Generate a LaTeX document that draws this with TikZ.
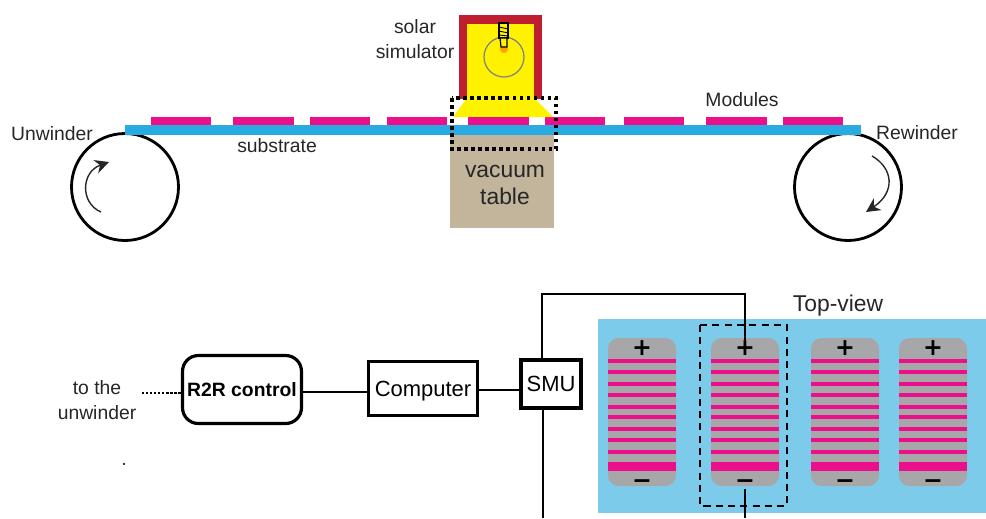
\documentclass[tikz,border=0pt]{standalone}
\usepackage{fontspec}
\setmainfont{Liberation Sans}
\newfontfamily\signfont{DejaVu Sans}
\usetikzlibrary{arrows.meta,positioning,calc}
\definecolor{magentabar}{HTML}{EC0F8C}
\definecolor{stripblue}{HTML}{29ABE2}
\definecolor{skyblue}{HTML}{7CCBEB}
\definecolor{panelgray}{HTML}{A7A7A9}
\definecolor{tablebrown}{HTML}{C2B59B}
\definecolor{framered}{HTML}{BE1E2D}
\definecolor{lampyellow}{HTML}{FFF200}

\begin{document}
\begin{tikzpicture}[
  x=0.02cm, y=-0.02cm,
  font=\fontsize{11}{13}\selectfont,
  lbl/.style={text=black!85, align=center, inner sep=0pt},
  bigl/.style={lbl, font=\fontsize{13}{15}\selectfont},
  roller/.style={draw=black, line width=1.6pt, circle, minimum size=2.14cm, inner sep=0pt},
  turn/.style={draw=black!85, line width=0.8pt, -{Stealth[length=2.8mm,width=2.8mm]}},
  ctrl/.style={draw=black, line width=1.8pt, align=center, inner sep=0pt},
  wire/.style={draw=black, line width=1.3pt},
  sign/.style={font=\fontsize{13.5}{14}\signfont\bfseries, inner sep=0pt}
]
\useasboundingbox (0,0) rectangle (986,518);

% rollers
\node[roller] (unwinder) at (125,187) {};
\node[roller] (rewinder) at (848,187) {};
\coordinate (ustart) at (101,212);
\coordinate (uend) at (109,162);
\coordinate (rstart) at (872,156);
\coordinate (rend) at (866,212);
\draw[turn] (ustart) .. controls (80,203) and (81,172) .. (uend);
\draw[turn] (rstart) .. controls (893,168) and (896,192) .. (rend);

% table, substrate, modules
\fill[tablebrown] (450,135) rectangle (554,228);
\fill[stripblue] (125,125) rectangle (861,135);
\foreach \a/\b in {151/211,233/294,310/370,387/447,468/529,545/605,624/684,706/767,783/843}
  \fill[magentabar] (\a,117) rectangle (\b,125);

% solar simulator
\fill[framered] (459,15) rectangle (542,99);
\fill[lampyellow] (467,24) rectangle (534,99);
\fill[lampyellow] (467,98) -- (534,98) -- (553,117) -- (529,117) -- (468,117) -- (453,117) -- cycle;
\fill[magentabar] (468,117) rectangle (529,125);
\fill[orange!70!lampyellow] (504,49) circle (4);
\draw[black!50, line width=0.7pt] (504,57) circle (20);
\draw[black, line width=0.7pt, fill=lampyellow] (499,23) rectangle (508,38);
\draw[black, line width=0.7pt, fill=lampyellow] (500,38) -- (507,38) -- (507,47) -- (501,47) -- cycle;
\draw[black, line width=0.5pt] (499,27) -- (508,29) (499,31) -- (508,33) (499,35) -- (508,36);
\draw[black, line width=2pt, dash pattern=on 2pt off 2pt] (452,98) rectangle (556,149);

% top labels
\node[lbl] (solar) at (415,39) {solar\\[1.5pt]simulator};
\node[lbl] (unlabel) at (52,134) {Unwinder};
\node[lbl] (relabel) at (917,133) {Rewinder};
\node[lbl] (substrate) at (277,146) {substrate};
\node[lbl] (modules) at (742,100) {Modules};
\node[lbl, font=\fontsize{13}{15.5}\selectfont] (vacuum) at (505,185) {vacuum\\table};

% top-view sheet
\fill[skyblue] (598,319) rectangle (986,513);
\node[bigl] (topview) at (838,306) {Top-view};
\foreach \x in {608,711,811,899} {
  \fill[panelgray, rounded corners=6pt] (\x,338) rectangle ++(68,148);
  \foreach \y in {361,372,384,395,407,417,429,440,452}
    \fill[magentabar] (\x,\y-1.6) rectangle ++(68,3.2);
  \fill[magentabar] (\x,462) rectangle ++(68,8.5);
  \node[sign] (plus\x) at (\x+34,348) {+};
  \node[sign] (minus\x) at (\x+34,484) {−};
}
\draw[black, line width=1.4pt, dash pattern=on 4pt off 3pt] (700,325) rectangle (787,506);

% control chain
\node[ctrl, rounded corners=9pt, minimum width=2.38cm, minimum height=1.36cm, font=\fontsize{11}{13}\selectfont\bfseries] (r2r) at (242,389.5) {R2R control};
\node[ctrl, line width=1.6pt, minimum width=2.18cm, minimum height=1.08cm, text depth=0pt, font=\fontsize{12.5}{15}\selectfont] (computer) at (423,388.5) {Computer};
\node[ctrl, line width=2.2pt, minimum width=1.2cm, minimum height=0.96cm, font=\fontsize{12.5}{15}\selectfont] (smu) at (551,384) {SMU};
\node[lbl] (unwnote) at (97,400) {to the\\[1pt]unwinder};
\node[lbl] (stray) at (124,464) {.};

\coordinate (dotend) at (142,393);
\coordinate (wiretop) at (745,294);
\coordinate (wirelow) at (543,518);
\coordinate (wireout) at (745,518);
\draw[wire, densely dotted] (dotend) -- (r2r.west |- dotend);
\draw[wire] (r2r.east |- 0,392) -- (computer.west |- 0,392);
\draw[wire] (computer.east |- 0,390) -- (smu.west |- 0,390);
\draw[wire] (smu.north -| wirelow) ++(-1,0) |- (wiretop) -- (plus711);
\draw[wire] (smu.south -| wirelow) -- (wirelow);
\draw[wire] (minus711) -- (wireout);
\end{tikzpicture}
\end{document}
